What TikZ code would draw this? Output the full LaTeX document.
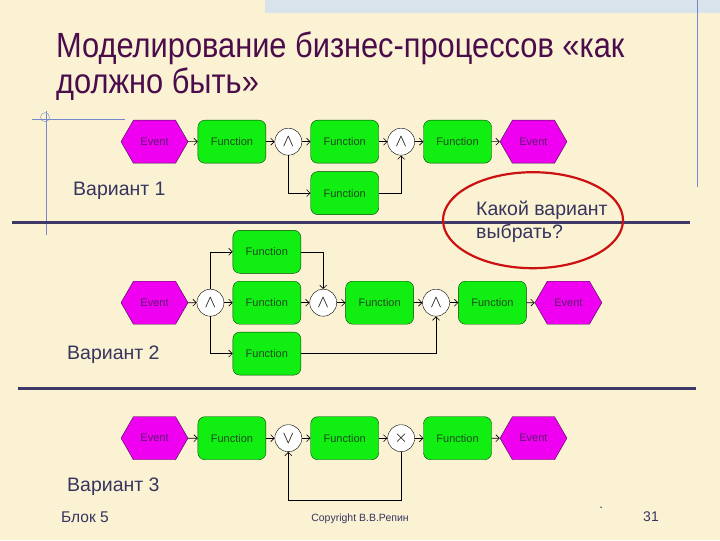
\documentclass[tikz,border=0pt]{standalone}
\usepackage{fontspec}
\setmainfont{Liberation Sans}
\newfontfamily\titlefont[FakeStretch=0.88]{Liberation Sans}
\usetikzlibrary{arrows.meta,positioning,shapes.symbols,shapes.geometric}
\definecolor{paper}{HTML}{FBF2D4}
\definecolor{titlecol}{HTML}{4A0C4A}
\definecolor{labelcol}{HTML}{35355E}
\definecolor{rulecol}{HTML}{3E3868}
\definecolor{guide}{HTML}{7488CC}
\definecolor{strip}{HTML}{D9E3EC}
\definecolor{evfill}{HTML}{F000F0}
\definecolor{fnfill}{HTML}{11EE11}
\definecolor{evtext}{HTML}{5A1A6E}
\definecolor{fntext}{HTML}{1E4A1E}
\definecolor{ring}{HTML}{CC1111}

\begin{document}
\begin{tikzpicture}[x=1pt,y=-1pt,
    event/.style={signal,signal to=west and east,signal pointer angle=120,
                  draw=evtext!60!black,fill=evfill,minimum width=67pt,minimum height=43pt,
                  inner sep=0pt,font=\fontsize{11}{13}\selectfont,text=evtext},
    func/.style={draw=black!75!green,fill=fnfill,rounded corners=7pt,minimum width=68pt,
                 minimum height=43pt,inner sep=0pt,font=\fontsize{11}{13}\selectfont,text=fntext},
    conn/.style={circle,draw,fill=white,minimum size=27pt,inner sep=0pt,
                 font=\fontsize{16}{16}\selectfont},
    arr/.style={-{Straight Barb[length=3.5pt,width=7pt]},semithick},
    heading/.style={anchor=base west,inner sep=0pt,font=\titlefont\fontsize{35}{40}\selectfont,text=titlecol},
    variant/.style={anchor=base west,inner sep=0pt,font=\fontsize{19.5}{23}\selectfont,text=labelcol},
    footer/.style={anchor=base,inner sep=0pt,text=labelcol},
    rule/.style={line width=3pt,rulecol},
    node distance=9.5pt
  ]
    % slide
    \fill[paper] (0,0) rectangle (720,540);
    \fill[strip] (265,0) rectangle (720,13);
    \draw[guide] (697,0) -- (697,187);
    \draw[guide] (32,119) -- (125,119);
    \draw[guide] (46,111) -- (46,235);
    \draw[guide] (45,117) circle (4.5);

    \node[heading] (ttl1) at (56,57) {Моделирование бизнес-процессов «как};
    \node[heading] (ttl2) at (56,93) {должно быть»};

    \draw[rule] (12,222) -- (690,222);
    \draw[rule] (18,388) -- (696,388);

    % variant 1
    \node[event] (ev11) at (154.5,141.5) {Event};
    \node[func,right=of ev11]        (fn11)  {Function};
    \node[conn,right=8.5pt of fn11]  (and11) {$\wedge$};
    \node[func,right=8.5pt of and11] (fn12)  {Function};
    \node[conn,right=8.5pt of fn12]  (and12) {$\wedge$};
    \node[func,right=8.5pt of and12] (fn13)  {Function};
    \node[event,right=8pt of fn13]   (ev12)  {Event};
    \node[func,below=8pt of fn12]    (fn14)  {Function};

    \draw[arr] (ev11)  -- (fn11);
    \draw[arr] (fn11)  -- (and11);
    \draw[arr] (and11) -- (fn12);
    \draw[arr] (fn12)  -- (and12);
    \draw[arr] (and12) -- (fn13);
    \draw[arr] (fn13)  -- (ev12);
    \draw[arr] (and11.south) |- (fn14.west);
    \draw[arr] (fn14.east)   -| (and12.south);

    \node[variant] (var1) at (73,195) {Вариант 1};

    % variant 2
    \node[event] (ev21) at (154.5,302.5) {Event};
    \node[conn,right=8.5pt of ev21]  (and21) {$\wedge$};
    \node[func,right=8.5pt of and21] (fn22)  {Function};
    \node[func,above=7.5pt of fn22]  (fn21)  {Function};
    \node[func,below=7.5pt of fn22]  (fn23)  {Function};
    \node[conn,right=8.5pt of fn22]  (and22) {$\wedge$};
    \node[func,right=8.5pt of and22] (fn24)  {Function};
    \node[conn,right=8.5pt of fn24]  (and23) {$\wedge$};
    \node[func,right=8.5pt of and23] (fn25)  {Function};
    \node[event,right=8pt of fn25]   (ev22)  {Event};

    \draw[arr] (ev21)  -- (and21);
    \draw[arr] (and21) -- (fn22);
    \draw[arr] (fn22)  -- (and22);
    \draw[arr] (and22) -- (fn24);
    \draw[arr] (fn24)  -- (and23);
    \draw[arr] (and23) -- (fn25);
    \draw[arr] (fn25)  -- (ev22);
    \draw[arr] (and21.north) |- (fn21.west);
    \draw[arr] (and21.south) |- (fn23.west);
    \draw[arr] (fn21.east)   -| (and22.north);
    \draw[arr] (fn23.east)   -| (and23.south);

    \node[variant] (var2) at (67,359) {Вариант 2};

    % variant 3
    \node[event] (ev31) at (154.5,438) {Event};
    \node[func,right=of ev31]        (fn31)  {Function};
    \node[conn,right=8.5pt of fn31]  (or31)  {$\vee$};
    \node[func,right=8.5pt of or31]  (fn32)  {Function};
    \node[conn,right=8.5pt of fn32]  (xor31) {$\times$};
    \node[func,right=8.5pt of xor31] (fn33)  {Function};
    \node[event,right=8pt of fn33]   (ev32)  {Event};

    \draw[arr] (ev31)  -- (fn31);
    \draw[arr] (fn31)  -- (or31);
    \draw[arr] (or31)  -- (fn32);
    \draw[arr] (fn32)  -- (xor31);
    \draw[arr] (xor31) -- (fn33);
    \draw[arr] (fn33)  -- (ev32);
    \draw[arr] (xor31.south) -- ++(0,48.5) -| (or31.south);

    \node[variant] (var3) at (67,491) {Вариант 3};

    % question
    \node[variant] (ask1) at (476,215) {Какой вариант};
    \node[variant] (ask2) at (476,238) {выбрать?};
    \node[ellipse,draw=ring,line width=2.2pt,minimum width=180pt,minimum height=96pt] (oval) at (533,220) {};

    % footer
    \node[footer,anchor=base west,font=\fontsize{15.5}{18}\selectfont] (blk) at (61,522) {Блок 5};
    \node[footer,font=\fontsize{10.5}{12}\selectfont] (copy) at (360,521) {Copyright В.В.Репин};
    \node[footer,font=\fontsize{14}{16}\selectfont] (page) at (651,521) {31};
    \fill[labelcol] (601,507) circle (0.8);
\end{tikzpicture}
\end{document}
